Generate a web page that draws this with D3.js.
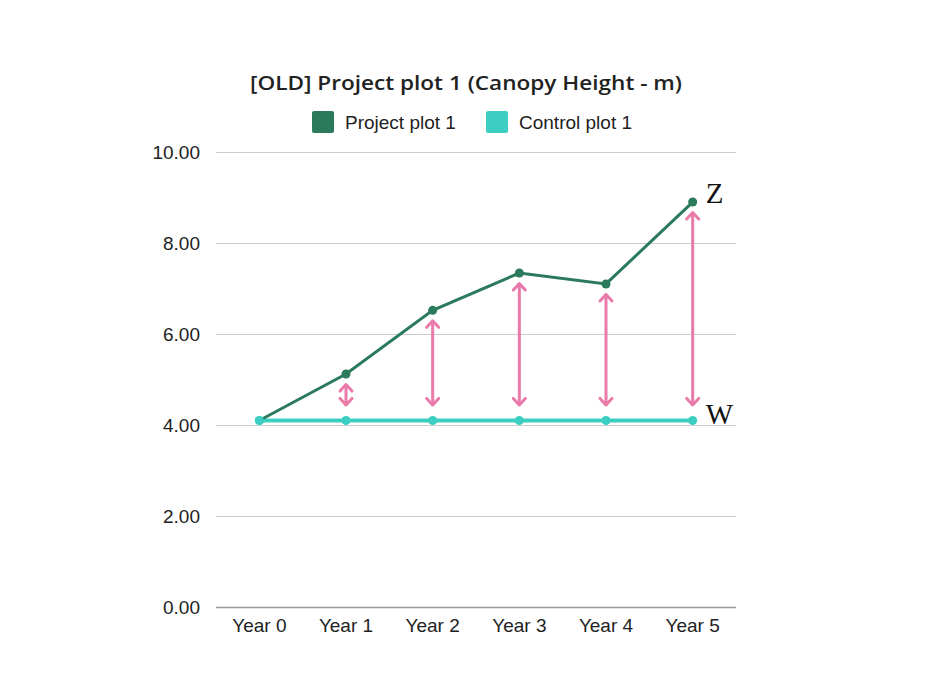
<!DOCTYPE html>
<html lang="en">
<head>
<meta charset="UTF-8">
<title>[OLD] Project plot 1 (Canopy Height - m)</title>
<script src="https://d3js.org/d3.v7.min.js"></script>
<style>
    body { margin: 0; background: #fff; }
    svg text { font-family: "Liberation Sans", Arial, sans-serif; }
</style>
</head>
<body>
<svg id="chart" width="925" height="694"></svg>
<script>
    // chart values
    const years = ["Year 0", "Year 1", "Year 2", "Year 3", "Year 4", "Year 5"];
    const projectPlot = [4.1, 5.12, 6.52, 7.34, 7.1, 8.9];
    const controlPlot = [4.1, 4.1, 4.1, 4.1, 4.1, 4.1];
    const yTicks = [0, 2, 4, 6, 8, 10];
    // years that get a difference arrow
    const arrowYears = ["Year 1", "Year 2", "Year 3", "Year 4", "Year 5"];

    const svg = d3.select("#chart");
    const margin = {left: 216, right: 189, top: 152, bottom: 87};
    const W = 925, H = 694;

    const x = d3.scaleBand().domain(years).range([margin.left, W - margin.right]);
    const y = d3.scaleLinear().domain([0, 10]).range([H - margin.bottom, margin.top]);
    const cx = d => x(d) + x.bandwidth() / 2;

    const projectColor = "#2b7a5c";
    const controlColor = "#3ccfc1";
    const pink = "#e97aaa";

    // title
    svg.append("text")
        .attr("x", 466).attr("y", 90)
        .attr("text-anchor", "middle")
        .attr("textLength", 432).attr("lengthAdjust", "spacingAndGlyphs")
        .style("font-family", "'Open Sans', sans-serif")
        .style("font-weight", 600)
        .style("font-size", "20px")
        .attr("fill", "#222")
        .text("[OLD] Project plot 1 (Canopy Height - m)");

    // legend
    const legend = [
        {name: "Project plot 1", color: projectColor, x: 312},
        {name: "Control plot 1", color: controlColor, x: 486}
    ];
    const lg = svg.append("g");
    lg.selectAll("rect").data(legend).enter().append("rect")
        .attr("x", d => d.x).attr("y", 111)
        .attr("width", 22).attr("height", 22).attr("rx", 2)
        .attr("fill", d => d.color);
    lg.selectAll("text").data(legend).enter().append("text")
        .attr("x", d => d.x + 33).attr("y", 128.5)
        .style("font-size", "19px").attr("fill", "#222")
        .text(d => d.name);

    // gridlines + y labels
    const yAxis = d3.axisLeft(y).tickValues(yTicks)
        .tickSize(-(W - margin.left - margin.right))
        .tickFormat(d3.format(".2f"))
        .tickPadding(16);
    const ya = svg.append("g").attr("transform", `translate(${margin.left},0)`).call(yAxis);
    ya.select(".domain").remove();
    ya.selectAll(".tick line").attr("stroke", d => d === 0 ? "#999" : "#ccc").attr("stroke-width", d => d === 0 ? 1.5 : 1);
    ya.selectAll(".tick text").style("font-size", "19px").attr("fill", "#222")
        .style("font-family", "'Liberation Sans', Arial, sans-serif");

    // x labels
    const xAxis = d3.axisBottom(x).tickSize(0).tickPadding(12);
    const xa = svg.append("g").attr("transform", `translate(0,${y(0)})`).call(xAxis);
    xa.select(".domain").remove();
    xa.selectAll(".tick text").style("font-size", "19px").attr("fill", "#222")
        .style("font-family", "'Liberation Sans', Arial, sans-serif");

    // difference arrows
    const arrowG = svg.append("g");
    arrowYears.forEach(yr => {
        const i = years.indexOf(yr);
        const xp = cx(yr);
        const top = y(projectPlot[i]) + 9;
        const bottom = y(controlPlot[i]) - 14;
        arrowG.append("line")
            .attr("x1", xp).attr("x2", xp).attr("y1", top + 1).attr("y2", bottom - 1)
            .attr("stroke", pink).attr("stroke-width", 3);
        arrowG.append("path")
            .attr("d", `M${xp - 6},${top + 8}L${xp},${top + 1.5}L${xp + 6},${top + 8}`)
            .attr("fill", "none").attr("stroke", pink).attr("stroke-width", 3)
            .attr("stroke-linecap", "round").attr("stroke-linejoin", "round");
        arrowG.append("path")
            .attr("d", `M${xp - 6},${bottom - 8}L${xp},${bottom - 1.5}L${xp + 6},${bottom - 8}`)
            .attr("fill", "none").attr("stroke", pink).attr("stroke-width", 3)
            .attr("stroke-linecap", "round").attr("stroke-linejoin", "round");
    });

    // lines
    const line = d3.line().x((d, i) => cx(years[i])).y(d => y(d));
    svg.append("path").datum(controlPlot)
        .attr("d", line).attr("fill", "none")
        .attr("stroke", controlColor).attr("stroke-width", 4);
    svg.selectAll(".cdot").data(controlPlot).enter().append("circle")
        .attr("class", "cdot")
        .attr("cx", (d, i) => cx(years[i])).attr("cy", d => y(d)).attr("r", 4.5)
        .attr("fill", controlColor);

    svg.append("path").datum(projectPlot)
        .attr("d", line).attr("fill", "none")
        .attr("stroke", projectColor).attr("stroke-width", 3);
    svg.selectAll(".pdot").data(projectPlot).enter().append("circle")
        .attr("class", "pdot")
        .attr("cx", (d, i) => cx(years[i])).attr("cy", d => y(d)).attr("r", 4.5)
        .attr("fill", (d, i) => i === 0 ? controlColor : projectColor);

    // Z / W annotations
    const last = years[years.length - 1];
    svg.append("text")
        .attr("x", cx(last) + 13).attr("y", y(projectPlot[5]) + 1)
        .style("font-family", "'Liberation Serif', serif").style("font-size", "29px")
        .attr("fill", "#111").text("Z");
    svg.append("text")
        .attr("x", cx(last) + 13).attr("y", y(controlPlot[5]) + 4)
        .style("font-family", "'Liberation Serif', serif").style("font-size", "29px")
        .attr("fill", "#111").text("W");
</script>
</body>
</html>
